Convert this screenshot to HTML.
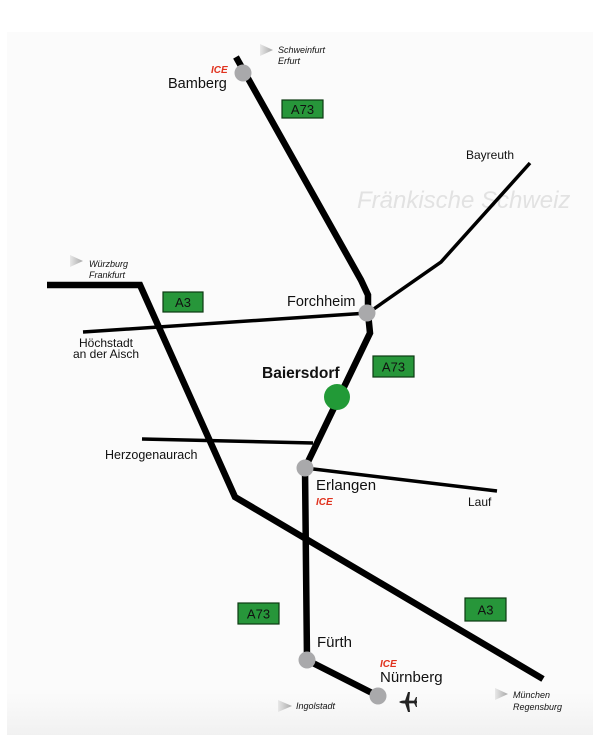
<!DOCTYPE html>
<html>
<head>
<meta charset="utf-8">
<style>
  html,body{margin:0;padding:0;background:#fff;}
  svg{display:block;}
  text{font-family:"Liberation Sans",sans-serif;}
</style>
</head>
<body>
<svg width="600" height="748" viewBox="0 0 600 748" xmlns="http://www.w3.org/2000/svg">
  <defs>
    <linearGradient id="bg" x1="0" y1="0" x2="0" y2="1">
      <stop offset="0" stop-color="#fbfbfb"/>
      <stop offset="0.94" stop-color="#fbfbfb"/>
      <stop offset="1" stop-color="#f1f1f1"/>
    </linearGradient>
    <linearGradient id="tri" x1="0" y1="0" x2="1" y2="0">
      <stop offset="0" stop-color="#e8e8e8"/>
      <stop offset="1" stop-color="#a8a8a8"/>
    </linearGradient>
  </defs>

  <rect x="7" y="32" width="586" height="703" fill="url(#bg)"/>

  <!-- Fränkische Schweiz -->
  <text x="357" y="208" font-size="24" font-style="italic" fill="#e2e2e2">Fränkische Schweiz</text>

  <!-- thin roads -->
  <g stroke="#000" stroke-width="3.5" fill="none" stroke-linejoin="miter">
    <polyline points="83,332 368,313"/>
    <polyline points="368,313 441,262 530,163"/>
    <polyline points="142,439 313,443"/>
    <polyline points="305,468 497,491"/>
  </g>

  <!-- thick roads -->
  <g stroke="#000" stroke-width="6.5" fill="none" stroke-linejoin="miter">
    <polyline points="236,57 361,280 368,295 368,313"/>
    <polyline points="368,313 370,333 305,468"/>
    <polyline points="305,468 307,660 378,696"/>
    <polyline points="47,285 140,285 235,497 543,679"/>
  </g>

  <!-- nodes -->
  <g fill="#a9a9ab">
    <circle cx="243" cy="73" r="8.5"/>
    <circle cx="367" cy="313" r="8.5"/>
    <circle cx="305" cy="468" r="8.5"/>
    <circle cx="307" cy="660" r="8.5"/>
    <circle cx="378" cy="696" r="8.5"/>
  </g>
  <circle cx="337" cy="397" r="13" fill="#229a37"/>

  <!-- road boxes -->
  <g fill="#27963a" stroke="#0c3a12" stroke-width="1.2">
    <rect x="282" y="100" width="41" height="18"/>
    <rect x="163" y="292" width="40" height="20"/>
    <rect x="373" y="356" width="41" height="21"/>
    <rect x="238" y="603" width="41" height="21"/>
    <rect x="465" y="598" width="41" height="23"/>
  </g>
  <g font-size="13" fill="#111" text-anchor="middle">
    <text x="302.5" y="114">A73</text>
    <text x="183" y="307">A3</text>
    <text x="393.5" y="371.5">A73</text>
    <text x="258.5" y="618.5">A73</text>
    <text x="485.5" y="614.5">A3</text>
  </g>

  <!-- direction triangles -->
  <g fill="url(#tri)">
    <polygon points="260,44 273,50 260,56"/>
    <polygon points="70,255 83,261 70,267"/>
    <polygon points="278,700 292,706 278,712"/>
    <polygon points="495,688 508,694 495,700"/>
  </g>

  <!-- direction labels -->
  <g font-size="9" font-style="italic" fill="#111">
    <text x="278" y="53">Schweinfurt</text>
    <text x="278" y="64">Erfurt</text>
    <text x="89" y="267">Würzburg</text>
    <text x="89" y="278">Frankfurt</text>
    <text x="296" y="709">Ingolstadt</text>
    <text x="513" y="698">München</text>
    <text x="513" y="710">Regensburg</text>
  </g>

  <!-- ICE -->
  <g font-size="10" font-style="italic" font-weight="bold" fill="#e0321e">
    <text x="211" y="73">ICE</text>
    <text x="316" y="505">ICE</text>
    <text x="380" y="667">ICE</text>
  </g>

  <!-- city labels -->
  <g fill="#111">
    <text x="168" y="88" font-size="14.5">Bamberg</text>
    <text x="287" y="306" font-size="14.5">Forchheim</text>
    <text x="466" y="159" font-size="12">Bayreuth</text>
    <text x="106" y="347" font-size="12" text-anchor="middle">Höchstadt</text>
    <text x="106" y="358" font-size="12" text-anchor="middle">an der Aisch</text>
    <text x="262" y="378" font-size="15.5" font-weight="bold">Baiersdorf</text>
    <text x="105" y="459" font-size="12.5">Herzogenaurach</text>
    <text x="316" y="490" font-size="15">Erlangen</text>
    <text x="468" y="506" font-size="12">Lauf</text>
    <text x="317" y="647" font-size="15">Fürth</text>
    <text x="380" y="682" font-size="15">Nürnberg</text>
  </g>

  <!-- plane -->
  <g fill="#222">
    <path d="M399,702 Q401,700.5 404,700.5 L417,700.8 L417,703.2 L404,703.5 Q401,703.5 399,702 Z"/>
    <polygon points="405,700.8 408,692 410,692 409,700.8"/>
    <polygon points="405,703.2 408,712 410,712 409,703.2"/>
    <polygon points="414,701 416,697 417,697 416.5,701"/>
    <polygon points="414,703 416,707 417,707 416.5,703"/>
  </g>
</svg>
</body>
</html>
